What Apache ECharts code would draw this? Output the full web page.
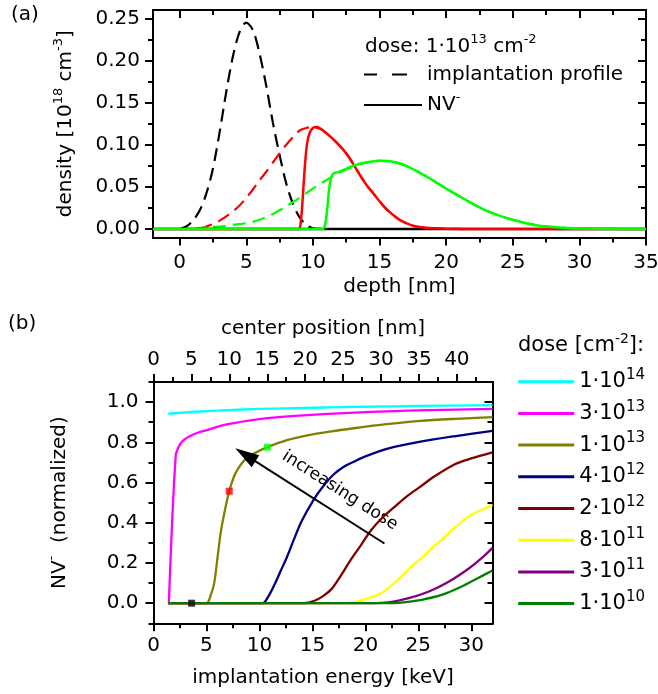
<!DOCTYPE html>
<html><head><meta charset="utf-8">
<script src="https://cdn.jsdelivr.net/npm/echarts@6/dist/echarts.min.js"></script>
<style>html,body{margin:0;padding:0;background:#fff}#c{width:658px;height:694px}</style>
</head><body><div id="c"></div>
<script>
const FONT = 'DejaVu Sans';
const BLACK = '#000000';

// ---------------- panel (a): depth profiles, dose 1e13 ----------------
const depthTicks = [0, 5, 10, 15, 20, 25, 30, 35];
const depthMinorTicks = [2.5, 7.5, 12.5, 17.5, 22.5, 27.5, 32.5];
const densityTicks = [0, 0.05, 0.1, 0.15, 0.2, 0.25];
const densityMinorTicks = [0.025, 0.075, 0.125, 0.175, 0.225];

const profileBlack = [[0,0],[0.5,0.003],[1,0.01],[1.5,0.022],[2,0.042],[2.5,0.072],[3,0.115],[3.5,0.163],[4,0.205],[4.5,0.234],[5,0.245],[5.5,0.236],[6,0.208],[6.5,0.17],[7,0.126],[7.5,0.088],[8,0.054],[8.5,0.03],[9,0.014],[9.5,0.005],[10,0.001],[11,0]];
const profileRed = [[1.5,0],[2,0.003],[2.5,0.006],[3,0.01],[3.5,0.015],[4,0.021],[4.5,0.028],[5,0.037],[5.5,0.047],[6,0.058],[6.5,0.068],[7,0.079],[7.5,0.09],[8,0.1],[8.5,0.109],[9,0.117],[9.5,0.12],[10,0.121],[10.5,0.119],[11,0.114],[11.5,0.107],[12,0.099],[12.5,0.09],[13,0.078],[13.5,0.065],[14,0.053],[14.5,0.043],[15,0.033],[15.5,0.024],[16,0.017],[16.5,0.011],[17,0.007],[17.5,0.004],[18,0.0025],[19,0.001],[20,0.0003],[22,0]];
const profileGreen = [[1,0],[2,0.002],[3,0.003],[4,0.005],[5,0.007],[6,0.011],[7,0.018],[8,0.027],[9,0.037],[10,0.048],[11,0.058],[12,0.067],[13,0.074],[14,0.079],[15,0.081],[16,0.08],[17,0.075],[18,0.067],[19,0.058],[20,0.048],[21,0.039],[22,0.03],[23,0.022],[24,0.016],[25,0.011],[26,0.007],[27,0.004],[28,0.0025],[29,0.0014],[30,0.0007],[32,0.0002],[35,0]];
const nvBlack = [[-2,0],[35,0]];
const nvRed = [[-2,0],[8.9,0],[9.1,0.01],[9.25,0.04],[9.4,0.075],[9.55,0.1],[9.75,0.114],[10,0.12],[10.3,0.121],[10.6,0.119],[11,0.114],[11.5,0.107],[12,0.099],[12.5,0.09],[13,0.078],[13.5,0.065],[14,0.053],[14.5,0.043],[15,0.033],[15.5,0.024],[16,0.017],[16.5,0.011],[17,0.007],[17.5,0.004],[18,0.0025],[19,0.001],[20,0.0003],[22,0],[35,0]];
const nvGreen = [[-2,0],[10.7,0],[10.9,0.004],[11.05,0.02],[11.2,0.045],[11.35,0.06],[11.55,0.066],[12,0.068],[13,0.075],[14,0.079],[15,0.081],[16,0.08],[17,0.075],[18,0.067],[19,0.058],[20,0.048],[21,0.039],[22,0.03],[23,0.022],[24,0.016],[25,0.011],[26,0.007],[27,0.004],[28,0.0025],[29,0.0014],[30,0.0007],[32,0.0002],[35,0]];

// ---------------- panel (b): NV- vs implantation energy ----------------
const energyTicks = [0, 5, 10, 15, 20, 25, 30];
const energyMinorTicks = [2.5, 7.5, 12.5, 17.5, 22.5, 27.5];
const centerTicks = [0, 5, 10, 15, 20, 25, 30, 35, 40];
const centerMinorTicks = [2.5, 7.5, 12.5, 17.5, 22.5, 27.5, 32.5, 37.5, 42.5];
const nvTicks = [0, 0.2, 0.4, 0.6, 0.8, 1.0];
const nvMinorTicks = [-0.1, 0.1, 0.3, 0.5, 0.7, 0.9, 1.1];

const doseNames = ['1e14', '3e13', '1e13', '4e12', '2e12', '8e11', '3e11', '1e10'];
const doseMantissa = ['1', '3', '1', '4', '2', '8', '3', '1'];
const doseExponent = ['14', '13', '13', '12', '12', '11', '11', '10'];

const curve1e14 = [[1.4,0.942],[4,0.952],[7,0.96],[10,0.966],[15,0.972],[20,0.977],[25,0.981],[32,0.985]];
const curve3e13 = [[1.45,0],[2.1,0.735],[2.5,0.79],[2.9,0.813],[3.5,0.833],[4.3,0.85],[5.1,0.862],[6.3,0.882],[7.6,0.896],[9,0.908],[10.8,0.92],[13,0.93],[16,0.94],[19,0.948],[22,0.954],[26,0.96],[32,0.966]];
const curve1e13 = [[1.4,0],[5.0,0],[5.4,0.04],[5.73,0.1],[6.05,0.23],[6.37,0.36],[6.77,0.47],[7.15,0.557],[7.6,0.63],[8.0,0.67],[8.4,0.7],[8.8,0.722],[9.5,0.745],[10.7,0.775],[12.6,0.811],[14.5,0.835],[16.8,0.855],[18.9,0.87],[22,0.89],[25.2,0.907],[28.5,0.917],[32,0.925]];
const curve4e12 = [[1.4,0],[10.3,0],[10.8,0.03],[11.4,0.09],[12,0.16],[12.6,0.23],[13.2,0.31],[14,0.41],[15.1,0.513],[16,0.58],[17,0.64],[18,0.68],[18.9,0.703],[20,0.73],[22.2,0.77],[25.2,0.803],[28.4,0.83],[32,0.857]];
const curve2e12 = [[1.4,0],[14.2,0],[15.2,0.012],[16,0.035],[16.8,0.07],[17.6,0.13],[18.6,0.214],[19.6,0.29],[20.5,0.36],[21.5,0.42],[23,0.49],[24,0.535],[25.2,0.58],[26.5,0.63],[28.4,0.69],[30,0.72],[32,0.75]];
const curve8e11 = [[1.4,0],[18,0],[19,0.005],[20,0.02],[21.5,0.05],[22.5,0.09],[23.4,0.133],[24.3,0.18],[25.3,0.224],[26.2,0.27],[27.2,0.315],[28.1,0.36],[29.1,0.406],[30,0.44],[31,0.465],[32,0.489]];
const curve3e11 = [[1.4,0],[20.5,0],[22.2,0.004],[24.1,0.025],[26,0.058],[27.9,0.108],[29.8,0.174],[31,0.225],[32,0.275]];
const curve1e10 = [[1.4,0],[22,0],[23.4,0.003],[25.3,0.017],[27.2,0.041],[29.1,0.083],[30.6,0.124],[32,0.163]];
const doseCurves = [curve1e14, curve3e13, curve1e13, curve4e12, curve2e12, curve8e11, curve3e11, curve1e10];

const markerPoints = [[3.6, 0], [7.15, 0.557], [10.75, 0.776]];
const arrowTail = [21.8, 0.297];
const arrowHead = [8.67, 0.738];
const arrowLabelAt = [17.6, 0.56];

// ---------------- styles ----------------
const doseColors = ['#00ffff', '#ff00ff', '#808000', '#000080', '#800000', '#ffff00', '#800080', '#008000'];
const markerColors = ['#000000', '#ff0000', '#00ff00'];
const depthColors = ['#000000', '#ff0000', '#00ff00'];
const DASH = [13, 7];

function mkAxis(gridIndex, pos, min, max, ticks, len, inside, o) {
  o = o || {};
  const a = {
    type: 'value', gridIndex: gridIndex, position: pos, min: min, max: max,
    splitLine: {show: false},
    axisLine: {show: !!o.line, onZero: false, lineStyle: {color: BLACK, width: 2, cap: 'square'}},
    axisTick: {show: true, inside: inside, length: len, customValues: ticks, lineStyle: {color: BLACK, width: 2}},
    axisLabel: {show: false},
    axisPointer: {show: false}
  };
  if (o.labels) {
    a.axisLabel = {show: true, customValues: ticks, margin: o.margin, color: BLACK,
      fontSize: 20, fontFamily: FONT, formatter: o.fmt};
  }
  if (o.name) {
    a.name = o.name; a.nameLocation = 'middle'; a.nameGap = o.nameGap;
    a.nameTextStyle = Object.assign({color: BLACK, fontSize: 20, fontFamily: FONT}, o.nameStyle || {});
  }
  return a;
}

const supRich = {
  m: {fontSize: 20, lineHeight: 28, fontFamily: FONT, color: BLACK},
  s: {fontSize: 13, lineHeight: 8, verticalAlign: 'top', fontFamily: FONT, color: BLACK}
};

const xAxes = [
  mkAxis(0, 'bottom', -2, 35, depthTicks, 8, false, {line: true, labels: true, margin: 15, fmt: v => String(v),
    name: 'depth [nm]', nameGap: 39}),
  mkAxis(0, 'bottom', -2, 35, depthMinorTicks, 5, false),
  mkAxis(0, 'top', -2, 35, depthTicks, 8, true, {line: true}),
  mkAxis(0, 'top', -2, 35, depthMinorTicks, 5, true),
  mkAxis(1, 'bottom', 0, 32, energyTicks, 8, false, {line: true, labels: true, margin: 12.5, fmt: v => String(v),
    name: 'implantation energy [keV]', nameGap: 44}),
  mkAxis(1, 'bottom', 0, 32, energyMinorTicks, 5, false),
  mkAxis(1, 'top', 0, 44.7, centerTicks, 8, false, {line: true, labels: true, margin: 12, fmt: v => String(v),
    name: 'center position [nm]', nameGap: 43}),
  mkAxis(1, 'top', 0, 44.7, centerMinorTicks, 5, false)
];
const yAxes = [
  mkAxis(0, 'left', -0.01, 0.26, densityTicks, 8, false, {line: true, labels: true, margin: 13, fmt: v => v.toFixed(2),
    name: '{m|density [10}{s|18}{m| cm}{s|-3}{m|]}', nameGap: 73, nameStyle: {rich: supRich}}),
  mkAxis(0, 'left', -0.01, 0.26, densityMinorTicks, 5, false),
  mkAxis(0, 'right', -0.01, 0.26, densityTicks, 8, true, {line: true}),
  mkAxis(0, 'right', -0.01, 0.26, densityMinorTicks, 5, true),
  mkAxis(1, 'left', -0.1, 1.1, nvTicks, 8, false, {line: true, labels: true, margin: 15, fmt: v => v.toFixed(1),
    name: '{m|NV}{s|-}{m|  (normalized)}', nameGap: 80, nameStyle: {rich: supRich}}),
  mkAxis(1, 'left', -0.1, 1.1, nvMinorTicks, 5, false),
  mkAxis(1, 'right', -0.1, 1.1, nvTicks, 8, true, {line: true}),
  mkAxis(1, 'right', -0.1, 1.1, nvMinorTicks, 5, true)
];

function lineSeries(name, data, color, xi, yi, dashed, width, z) {
  return {
    type: 'line', name: name, data: data, xAxisIndex: xi, yAxisIndex: yi,
    symbol: 'none', smooth: 0.3, z: z || 2, silent: true,
    lineStyle: {color: color, width: width, type: dashed ? DASH : 'solid'},
    itemStyle: {color: color}
  };
}

const series = [];
// panel (a)
series.push(lineSeries('pB', profileBlack, depthColors[0], 0, 0, true, 2.2));
series.push(lineSeries('pR', profileRed, depthColors[1], 0, 0, true, 2.2));
series.push(lineSeries('pG', profileGreen, depthColors[2], 0, 0, true, 2.2));
series.push(lineSeries('nB', nvBlack, depthColors[0], 0, 0, false, 2.5, 3));
series.push(lineSeries('nR', nvRed, depthColors[1], 0, 0, false, 2.5, 3));
series.push(lineSeries('nG', nvGreen, depthColors[2], 0, 0, false, 2.5, 3));
// legend-only entries of panel (a)
series.push({type: 'line', name: 'implantation profile', data: [], xAxisIndex: 0, yAxisIndex: 0, symbol: 'none',
  lineStyle: {color: BLACK, width: 2.5, type: [13, 15, 15, 60]}, itemStyle: {color: BLACK}});
series.push({type: 'line', name: 'NV-', data: [], xAxisIndex: 0, yAxisIndex: 0, symbol: 'none',
  lineStyle: {color: BLACK, width: 2.5, type: 'solid'}, itemStyle: {color: BLACK}});
// panel (b)
const firstB = series.length;
doseNames.forEach((n, i) => series.push(lineSeries(n, doseCurves[i], doseColors[i], 4, 4, false, 2.3)));
series.push({
  type: 'scatter', name: 'markers', xAxisIndex: 4, yAxisIndex: 4, symbol: 'rect', symbolSize: 7, z: 5, silent: true,
  data: markerPoints.map((p, i) => ({value: p, itemStyle: {color: markerColors[i]}})),
  markLine: {
    silent: true, animation: false, symbol: ['none', 'triangle'], symbolSize: 20,
    lineStyle: {color: BLACK, width: 2, type: 'solid'}, label: {show: false},
    data: [[{coord: arrowTail, symbol: 'none'}, {coord: arrowHead, symbol: 'triangle', symbolSize: [14, 24]}]]
  }
});

const chart = echarts.init(document.getElementById('c'), null, {renderer: 'canvas'});
chart.setOption({
  animation: false,
  backgroundColor: '#ffffff',
  grid: [
    {left: 153, top: 10, width: 493, height: 227.5, outerBoundsMode: 'none'},
    {left: 153.5, top: 382, width: 339, height: 241.3, outerBoundsMode: 'none'}
  ],
  xAxis: xAxes,
  yAxis: yAxes,
  legend: [
    {
      data: ['implantation profile', 'NV-'], orient: 'vertical', left: 363, top: 64.5, padding: 0,
      itemWidth: 58, itemHeight: 2, itemGap: 6.5, selectedMode: false,
      itemStyle: {opacity: 0},
      formatter: n => n === 'NV-' ? '{m|NV}{s|-}' : '{m|' + n + '}',
      textStyle: {rich: supRich}
    },
    {
      data: doseNames, orient: 'vertical', left: 516.7, top: 367.7, padding: 0,
      itemWidth: 56, itemHeight: 2, itemGap: 7.2, selectedMode: false,
      itemStyle: {opacity: 0},
      lineStyle: {width: 3},
      formatter: n => { const i = doseNames.indexOf(n); return '{m|' + doseMantissa[i] + '·10}{s|' + doseExponent[i] + '}'; },
      textStyle: {rich: {
        m: {fontSize: 21, lineHeight: 28, fontFamily: FONT, color: BLACK},
        s: {fontSize: 15, lineHeight: 10, verticalAlign: 'top', fontFamily: FONT, color: BLACK}
      }}
    }
  ],
  series: series
});

const lp = chart.convertToPixel({seriesIndex: firstB}, arrowLabelAt);
chart.setOption({
  graphic: [
    {type: 'text', x: 11, y: 14.5, silent: true,
      style: {text: '(a)', fontSize: 20, fontFamily: FONT, fill: BLACK, verticalAlign: 'middle'}},
    {type: 'text', x: 8, y: 324, silent: true,
      style: {text: '(b)', fontSize: 20, fontFamily: FONT, fill: BLACK, verticalAlign: 'middle'}},
    {type: 'text', x: 365, y: 47, silent: true,
      style: {text: '{m|dose: 1·10}{s|13}{m| cm}{s|-2}', rich: supRich, verticalAlign: 'middle'}},
    {type: 'text', x: 518, y: 346, silent: true,
      style: {text: '{m|dose [cm}{s|-2}{m|]:}', verticalAlign: 'middle', rich: {
        m: {fontSize: 21, lineHeight: 28, fontFamily: FONT, color: BLACK},
        s: {fontSize: 14, lineHeight: 10, verticalAlign: 'top', fontFamily: FONT, color: BLACK}
      }}},
    {type: 'text', x: lp[0], y: lp[1], rotation: -0.567, silent: true,
      style: {text: 'increasing dose', fontSize: 17, fontFamily: FONT, fill: BLACK, align: 'center', verticalAlign: 'middle'}}
  ]
});
</script>
</body></html>
